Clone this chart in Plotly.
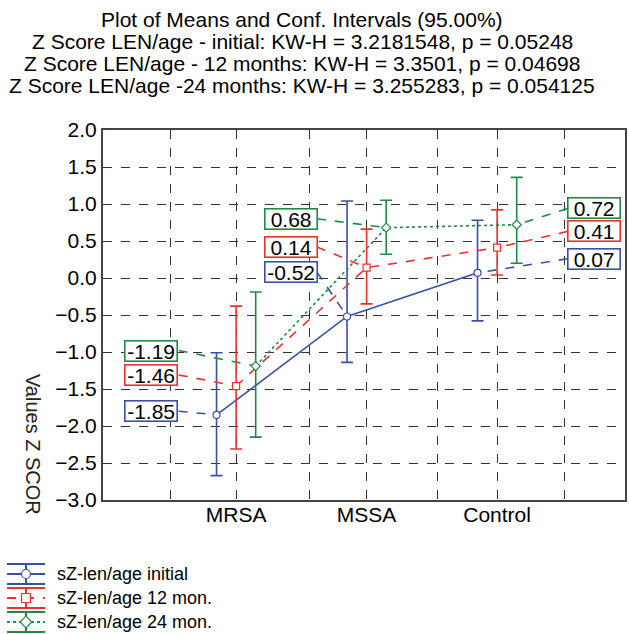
import plotly.graph_objects as go

# ---------------- data ----------------
categories = ["MRSA", "MSSA", "Control"]
series_names = ["sZ-len/age initial", "sZ-len/age 12 mon.", "sZ-len/age 24 mon."]

mean_initial = [-1.85, -0.52, 0.07]
upper_initial = [-1.01, 1.04, 0.78]
lower_initial = [-2.67, -1.14, -0.58]

mean_12 = [-1.46, 0.14, 0.41]
upper_12 = [-0.38, 0.66, 0.92]
lower_12 = [-2.31, -0.35, 0.04]

mean_24 = [-1.19, 0.68, 0.72]
upper_24 = [-0.19, 1.05, 1.36]
lower_24 = [-2.15, 0.32, 0.20]

title_lines = [
    "Plot of Means and Conf. Intervals (95.00%)",
    "Z Score LEN/age - initial: KW-H = 3.2181548, p = 0.05248",
    "Z Score LEN/age - 12 months: KW-H = 3.3501, p = 0.04698",
    "Z Score LEN/age -24 months: KW-H = 3.255283, p = 0.054125",
]
y_title = "Values Z SCOR"

# ---------------- layout / style ----------------
W, H = 629, 634
PL, PR, PT, PB = 103, 625, 130, 500   # plot area in pixels
FONT = "Liberation Sans, Arial, sans-serif"

colors = ["#3a4fa8", "#f0302a", "#1f8a45"]
dashes = ["solid", "dash", "dot"]
symbols = ["circle", "square", "diamond"]
offsets = [-0.15, 0.0, 0.15]

# label boxes (positions in data units): x centres per category, y per series
label_x = [0.35, 1.42, 3.74]
label_attach = [0.56, 1.62, 3.54]
label_y = [
    [-1.80, 0.08, 0.26],
    [-1.31, 0.42, 0.63],
    [-0.98, 0.80, 0.94],
]

means = [mean_initial, mean_12, mean_24]
uppers = [upper_initial, upper_12, upper_24]
lowers = [lower_initial, lower_12, lower_24]

fig = go.Figure()

cat_pos = [1, 2, 3]

for s in range(3):
    xs = [c + offsets[s] for c in cat_pos]
    m = means[s]
    # leader lines from labels to points
    lx, ly = [], []
    for i in range(3):
        lx += [label_attach[i], xs[i], None]
        ly += [label_y[s][i], m[i], None]
    fig.add_trace(go.Scatter(
        x=lx, y=ly, mode="lines",
        line=dict(color=colors[s], width=1.6, dash="dash"),
        showlegend=False, hoverinfo="skip"))
    fig.add_trace(go.Scatter(
        x=xs, y=m, mode="lines+markers", name=series_names[s],
        line=dict(color=colors[s], width=1.6, dash=dashes[s]),
        marker=dict(symbol=symbols[s], size=7, color="white",
                    line=dict(color=colors[s], width=1.2)),
        error_y=dict(type="data", symmetric=False,
                     array=[u - v for u, v in zip(uppers[s], m)],
                     arrayminus=[v - l for v, l in zip(m, lowers[s])],
                     color=colors[s], thickness=1.6, width=6),
        showlegend=False))

annotations = []
for s in range(3):
    for i in range(3):
        annotations.append(dict(
            x=label_x[i], y=label_y[s][i], xref="x", yref="y",
            text=f"{means[s][i]:.2f}", showarrow=False,
            font=dict(family=FONT, size=21, color="black"),
            bgcolor="white", bordercolor=colors[s], borderwidth=1.6,
            width=51, height=19, borderpad=0))

# overlay pixel axes for title / legend
for k, line in enumerate(title_lines):
    annotations.append(dict(
        x=302, y=19 + 22 * k, xref="x2", yref="y2", text=line,
        showarrow=False, font=dict(family=FONT, size=21, color="black"),
        xanchor="center", yanchor="middle"))

annotations.append(dict(
    x=33, y=444, xref="x2", yref="y2", text=y_title, textangle=90,
    showarrow=False, font=dict(family=FONT, size=20, color="#222"),
    xanchor="center", yanchor="middle"))

legend_y = [574, 598, 622]
for s in range(3):
    fig.add_trace(go.Scatter(
        x=[7, 45], y=[legend_y[s], legend_y[s]], mode="lines",
        line=dict(color=colors[s], width=2, dash=dashes[s]),
        xaxis="x2", yaxis="y2", showlegend=False, hoverinfo="skip"))
    fig.add_trace(go.Scatter(
        x=[26], y=[legend_y[s]], mode="markers",
        marker=dict(symbol=symbols[s], size=9, color="white",
                    line=dict(color=colors[s], width=1.2)),
        error_y=dict(type="data", array=[10], color=colors[s],
                     thickness=2, width=19),
        xaxis="x2", yaxis="y2", showlegend=False, hoverinfo="skip"))
    annotations.append(dict(
        x=55, y=legend_y[s], xref="x2", yref="y2", text=series_names[s],
        showarrow=False, font=dict(family=FONT, size=18, color="black"),
        xanchor="left", yanchor="middle"))

x_grid = [0.5, 1, 1.56, 2, 2.54, 3, 3.52]
x_text = ["", categories[0], "", categories[1], "", categories[2], ""]

fig.update_layout(
    width=W, height=H, autosize=False,
    margin=dict(l=0, r=0, t=0, b=0, pad=0),
    paper_bgcolor="white", plot_bgcolor="rgba(0,0,0,0)",
    showlegend=False,
    font=dict(family=FONT, size=21, color="black"),
    xaxis=dict(domain=[PL / W, PR / W], range=[-0.02, 3.98],
               tickvals=x_grid, ticktext=x_text, ticks="",
               ticklabelstandoff=-5,
               showgrid=True, gridcolor="#333", griddash="dash", gridwidth=1.3,
               showline=True, linecolor="#444", linewidth=2, mirror=True,
               zeroline=False, automargin=False,
               tickfont=dict(family=FONT, size=21, color="black")),
    yaxis=dict(domain=[(H - PB) / H, (H - PT) / H], range=[-3, 2],
               dtick=0.5, tick0=0, tickformat=".1f", ticks="",
               showgrid=True, gridcolor="#333", griddash="dash", gridwidth=1.3,
               showline=True, linecolor="#444", linewidth=2, mirror=True,
               zeroline=False, automargin=False,
               tickfont=dict(family=FONT, size=21, color="black")),
    xaxis2=dict(domain=[0, 1], range=[0, W], visible=False, anchor="y2",
                fixedrange=True),
    yaxis2=dict(domain=[0, 1], range=[H, 0], visible=False, anchor="x2",
                fixedrange=True),
    annotations=annotations,
)

fig.write_html("out.html")
